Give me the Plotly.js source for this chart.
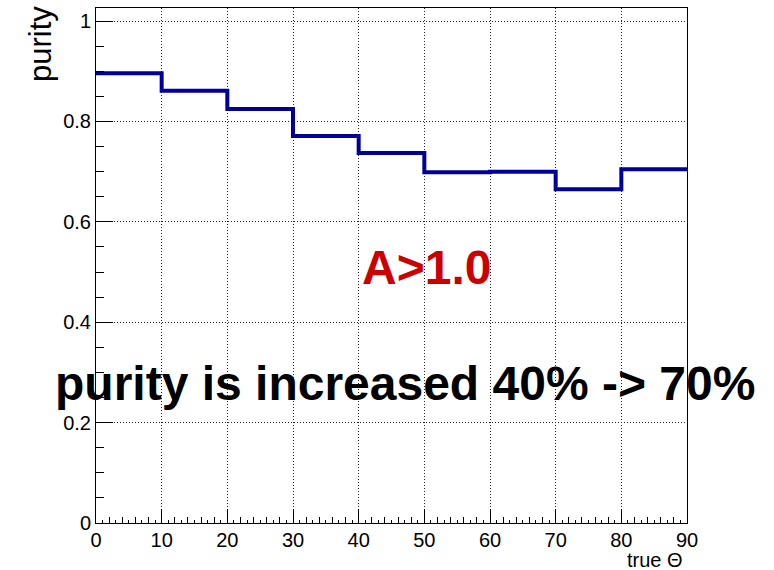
<!DOCTYPE html>
<html>
<head>
<meta charset="utf-8">
<script src="https://cdn.plot.ly/plotly-3.0.1.min.js"></script>
<style>
  html, body { margin: 0; padding: 0; background: #fff; }
  #chart { width: 774px; height: 570px; }
</style>
</head>
<body>
<div id="chart"></div>
<script>
// Bin edges in true theta (degrees) and the purity in each bin
const binEdges = [0, 10, 20, 30, 40, 50, 60, 70, 80, 90];
const purity = [0.896, 0.861, 0.825, 0.771, 0.737, 0.699, 0.700, 0.665, 0.705];

const xTitle = 'true \u0398';
const yTitle = 'purity';
const cutLabel = 'A>1.0';
const note = 'purity is increased 40% -> 70%';

const FONT = 'Liberation Sans, Arial, Helvetica, sans-serif';

// Step histogram: each bin's value holds until the next edge
const stepY = purity.concat([purity[purity.length - 1]]);

const traces = [
  {
    type: 'scatter',
    mode: 'lines',
    x: binEdges,
    y: stepY,
    line: { shape: 'hv', color: '#000099', width: 4 },
    hoverinfo: 'skip',
    showlegend: false
  },
  {
    // carries the fine tick axis along the bottom
    type: 'scatter',
    mode: 'markers',
    x: [binEdges[0]],
    y: [0],
    xaxis: 'x2',
    marker: { opacity: 0 },
    hoverinfo: 'skip',
    showlegend: false
  }
];

const GRID_DASH = '1px,2px';

const layout = {
  width: 774,
  height: 570,
  margin: { l: 96, r: 87, t: 8, b: 47 },
  paper_bgcolor: '#ffffff',
  plot_bgcolor: '#ffffff',
  font: { family: FONT, color: '#000' },
  xaxis: {
    range: [0, 90],
    tickvals: [0, 10, 20, 30, 40, 50, 60, 70, 80, 90],
    ticks: 'inside',
    ticklen: 14,
    tickwidth: 1,
    tickcolor: '#000',
    minor: { dtick: 2, ticks: 'inside', ticklen: 6, tickcolor: '#000', showgrid: false },
    showline: true,
    linecolor: '#000',
    linewidth: 1,
    mirror: true,
    showgrid: true,
    gridcolor: '#222',
    griddash: GRID_DASH,
    gridwidth: 1,
    zeroline: false,
    tickfont: { family: FONT, size: 20, color: '#000' },
    ticklabelstandoff: -1
  },
  xaxis2: {
    range: [0, 90],
    overlaying: 'x',
    anchor: 'y',
    side: 'bottom',
    dtick: 1,
    tick0: 0,
    ticks: 'inside',
    ticklen: 3,
    tickcolor: '#000',
    showticklabels: false,
    showgrid: false,
    showline: false,
    zeroline: false
  },
  yaxis: {
    range: [0, 1.026],
    tickvals: [0, 0.2, 0.4, 0.6, 0.8, 1],
    ticktext: ['0', '0.2', '0.4', '0.6', '0.8', '1'],
    ticks: 'inside',
    ticklen: 17,
    tickwidth: 1,
    tickcolor: '#000',
    minor: { dtick: 0.05, tick0: 0, ticks: 'inside', ticklen: 8, tickcolor: '#000', showgrid: false },
    showline: true,
    linecolor: '#000',
    linewidth: 1,
    mirror: true,
    showgrid: true,
    gridcolor: '#222',
    griddash: GRID_DASH,
    gridwidth: 1,
    zeroline: false,
    tickfont: { family: FONT, size: 20, color: '#000' },
    ticklabelstandoff: 0
  },
  annotations: [
    {
      text: yTitle,
      xref: 'paper', yref: 'paper',
      x: -0.0948, y: 0.930,
      xanchor: 'center', yanchor: 'middle',
      textangle: -90,
      showarrow: false,
      font: { family: FONT, size: 31, color: '#000' }
    },
    {
      text: xTitle,
      xref: 'paper', yref: 'paper',
      x: 0.997, y: -0.072,
      xanchor: 'right', yanchor: 'middle',
      showarrow: false,
      font: { family: FONT, size: 20, color: '#000' }
    },
    {
      text: '<b>' + cutLabel + '</b>',
      xref: 'paper', yref: 'paper',
      x: 0.560, y: 0.496,
      xanchor: 'center', yanchor: 'middle',
      showarrow: false,
      font: { family: FONT, size: 48, color: '#cc0000' }
    },
    {
      text: '<b>' + note + '</b>',
      xref: 'paper', yref: 'paper',
      x: 0.522, y: 0.270,
      xanchor: 'center', yanchor: 'middle',
      showarrow: false,
      font: { family: FONT, size: 48, color: '#000' }
    }
  ]
};

Plotly.newPlot('chart', traces, layout, { staticPlot: true, displayModeBar: false });
</script>
</body>
</html>
